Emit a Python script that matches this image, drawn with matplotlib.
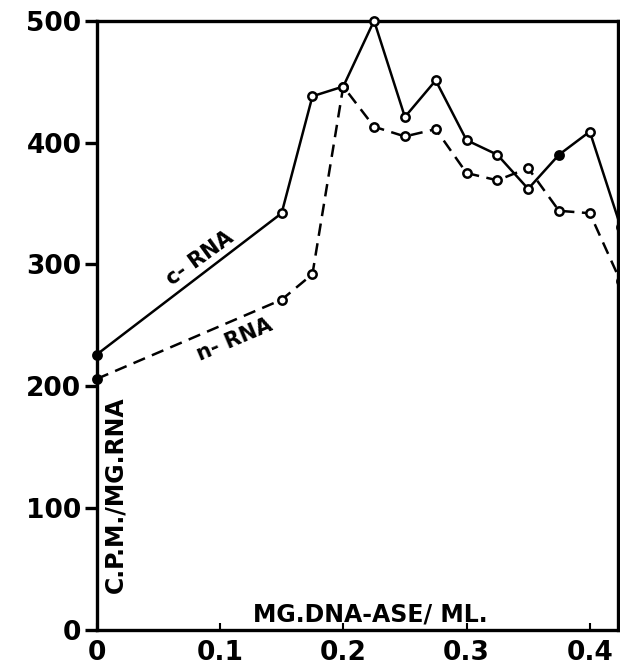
import matplotlib.pyplot as plt

# data
dose = [0, 0.15, 0.175, 0.2, 0.225, 0.25, 0.275, 0.3, 0.325, 0.35, 0.375, 0.4, 0.425]
c_rna = [226, 342, 438, 446, 500, 421, 451, 402, 390, 362, 390, 409, 331]
n_rna = [206, 271, 292, 446, 413, 405, 411, 375, 369, 379, 344, 342, 286]
c_filled = [True, False, False, False, False, False, False, False, False, False, True, False, True]
n_filled = [True, False, False, False, False, False, False, False, False, False, False, False, True]

xticks = [0, 0.1, 0.2, 0.3, 0.4]
xlabels = ["0", "0.1", "0.2", "0.3", "0.4"]
yticks = [0, 100, 200, 300, 400, 500]

fig = plt.figure(figsize=(6.2, 6.68), dpi=100)
ax = fig.add_axes([0.156, 0.057, 0.841, 0.912])

#solid c-RNA curve
ax.plot(dose, c_rna, '-', color='black', lw=1.8, zorder=3)
#dashed n-RNA curve
ax.plot(dose, n_rna, '--', color='black', lw=1.8, dashes=(5, 3), zorder=3)

for x, y, f in zip(dose, c_rna, c_filled):
    ax.plot(x, y, 'o', ms=6, mew=1.8, mec='black', mfc='black' if f else 'white', zorder=4, clip_on=False)
for x, y, f in zip(dose, n_rna, n_filled):
    ax.plot(x, y, 'o', ms=6, mew=1.8, mec='black', mfc='black' if f else 'white', zorder=4, clip_on=False)

ax.set_xlim(0, 0.423)
ax.set_ylim(0, 500)
ax.set_xticks(xticks)
ax.set_xticklabels(xlabels)
ax.set_yticks(yticks)

for s in ax.spines.values():
    s.set_linewidth(2.4)

ax.tick_params(axis='y', direction='out', length=9, width=2.4, labelsize=19, pad=2)
ax.tick_params(axis='x', direction='in', length=5, width=1.5, labelsize=19, pad=7)
for lab in ax.get_xticklabels() + ax.get_yticklabels():
    lab.set_fontweight('bold')

ax.text(0.036, 0.06, "C.P.M./MG.RNA", transform=ax.transAxes, rotation=90,
        fontsize=17, fontweight='bold', ha='center', va='bottom')
ax.text(0.30, 0.006, "MG.DNA-ASE/ ML.", transform=ax.transAxes,
        fontsize=17, fontweight='bold', ha='left', va='bottom')

ax.text(0.084, 305, "c- RNA", rotation=36, fontsize=15, fontweight='bold',
        ha='center', va='center')
ax.text(0.112, 238, "n- RNA", rotation=23, fontsize=15, fontweight='bold',
        ha='center', va='center')

fig.savefig("out.png", dpi=100)
